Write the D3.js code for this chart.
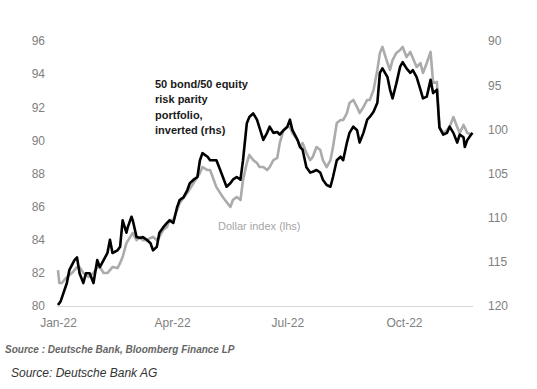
<!DOCTYPE html>
<html>
<head>
<meta charset="utf-8">
<script src="https://cdn.jsdelivr.net/npm/d3@7"></script>
<style>
html,body{margin:0;padding:0;background:#fff;}
svg{display:block;}
</style>
</head>
<body>
<svg id="chart" width="537" height="389"></svg>
<script>
// ---- data (day offset from 1 Jan 2022) ----
const dollarDays = [0,1,3,7,11,15,17,20,24,28,31,33,36,39,41,43,47,49,51,54,57,59,62,65,67,70,73,75,78,80,83,86,88,91,94,96,102,107,112,114,118,120,125,130,136,138,141,144,146,149,151,154,157,159,162,165,167,170,173,175,178,181,183,185,189,191,193,196,199,201,204,207,209,212,215,217,220,223,225,228,230,233,236,238,241,244,246,249,252,254,256,260,262,264,267,270,272,275,278,280,283,286,288,291,294,296,299,301,304,307,309,312,315,317,320,323,327];
const dollarIndex = [82.17,81.39,81.39,81.75,81.99,82.35,82.35,81.99,81.75,81.99,82.35,82.35,81.99,81.99,82.17,82.35,82.29,82.60,82.96,83.80,84.17,84.41,83.98,84.17,83.98,83.98,84.11,84.17,83.98,84.17,84.59,84.77,85.19,85.19,85.80,86.22,86.82,87.43,88.03,88.39,88.21,88.21,87.18,86.58,85.98,86.40,86.58,86.40,87.61,88.63,89.12,88.81,88.63,88.39,88.39,88.21,88.39,88.81,88.94,89.84,90.63,90.81,90.81,90.45,90.02,89.60,89.84,89.24,88.81,89.00,89.60,89.42,88.81,88.39,88.81,89.60,91.05,91.23,91.23,91.65,92.26,92.44,92.01,91.65,92.01,92.44,92.44,93.04,94.25,95.28,95.64,94.67,94.25,94.85,95.28,95.46,95.64,95.03,95.34,94.97,94.43,94.67,94.07,94.67,95.34,93.47,93.53,90.81,90.45,90.63,90.81,91.41,90.81,90.45,90.93,90.45,90.33];

const parityDays = [0,2,7,9,13,15,17,20,22,25,28,31,33,36,39,41,43,47,49,51,54,55,58,59,62,65,67,70,73,75,78,80,83,86,88,91,94,96,99,102,104,107,110,112,114,118,120,122,125,128,133,136,138,141,144,146,149,151,154,157,162,165,167,170,173,175,178,181,183,185,189,191,193,196,199,201,204,207,209,212,215,217,220,223,225,228,230,233,236,238,241,244,246,249,252,254,256,260,262,264,267,270,272,275,278,280,283,286,288,291,294,296,299,301,304,307,309,312,315,317,320,321,323,327];
const riskParity = [119.9,119.5,117.4,115.9,114.8,114.5,116.3,117.4,116.3,116.3,117.4,114.8,115.6,114.8,114.0,112.5,114.0,113.7,113.3,110.3,111.7,111.1,109.9,110.3,112.2,112.3,112.2,112.5,112.9,113.7,113.3,111.7,111.1,110.6,110.3,110.6,108.8,108.0,107.7,106.9,106.1,105.7,105.4,103.5,102.7,103.1,103.5,103.5,103.5,104.6,106.5,106.1,105.7,105.4,105.7,103.5,99.3,98.6,98.2,98.9,101.2,100.4,99.7,100.4,100.3,100.6,100.1,99.7,98.9,100.1,101.2,102.0,102.3,104.3,104.9,104.8,104.6,104.9,105.7,106.3,106.5,105.4,103.5,103.1,103.5,101.5,100.4,99.7,100.1,101.5,100.4,98.9,98.6,98.0,97.0,93.6,93.1,94.1,95.5,96.5,94.8,92.9,92.4,93.1,93.6,93.3,94.1,95.5,96.5,96.3,94.4,95.9,95.5,99.8,100.6,100.4,99.7,100.4,101.5,100.6,100.9,102.0,101.2,100.4];

const leftTicks = [80,82,84,86,88,90,92,94,96];
const rightTicks = [90,95,100,105,110,115,120];
const xTickDates = ["2022-01-01","2022-04-01","2022-07-01","2022-10-01"];
const annotationLines = ["50 bond/50 equity","risk parity","portfolio,","inverted (rhs)"];
const dollarLabel = "Dollar index (lhs)";
const source1 = "Source : Deutsche Bank, Bloomberg Finance LP";
const source2 = "Source: Deutsche Bank AG";

// ---- chart ----
const svg = d3.select("#chart");
const start = new Date(2022,0,1);
const toDate = d => d3.timeDay.offset(start, d);
const parse = d3.timeParse("%Y-%m-%d");

const x = d3.scaleTime().domain([start, toDate(327)]).range([58, 472.4]);
const yL = d3.scaleLinear().domain([80,96]).range([306,41]);
const yR = d3.scaleLinear().domain([90,120]).range([41,306]);

const font = "'Liberation Sans', Arial, sans-serif";

// baseline
svg.append("line").attr("x1",57).attr("x2",473).attr("y1",306.5).attr("y2",306.5)
  .attr("stroke","#d9d9d9").attr("stroke-width",1.2);

// left axis
const gL = svg.append("g").attr("transform","translate(45,0)")
  .call(d3.axisLeft(yL).tickValues(leftTicks).tickSize(0).tickPadding(0));
gL.select(".domain").remove();
gL.selectAll("text").attr("fill","#808080").style("font-family",font).style("font-size","12px");

// right axis
const gR = svg.append("g").attr("transform","translate(488,0)")
  .call(d3.axisRight(yR).tickValues(rightTicks).tickSize(0).tickPadding(0));
gR.select(".domain").remove();
gR.selectAll("text").attr("fill","#808080").style("font-family",font).style("font-size","12px");

// x axis
const gX = svg.append("g").attr("transform","translate(0,318)")
  .call(d3.axisBottom(x).tickValues(xTickDates.map(parse)).tickFormat(d3.timeFormat("%b-%y")).tickSize(0).tickPadding(0));
gX.select(".domain").remove();
gX.selectAll("text").attr("fill","#808080").style("font-family",font).style("font-size","12px");

// lines
const dollarData = dollarDays.map((d,i)=>({date:toDate(d), v:dollarIndex[i]}));
const parityData = parityDays.map((d,i)=>({date:toDate(d), v:riskParity[i]}));

svg.append("path").datum(dollarData)
  .attr("d", d3.line().x(d=>x(d.date)).y(d=>yL(d.v)))
  .attr("fill","none").attr("stroke","#ababab").attr("stroke-width",2.6).attr("stroke-linejoin","round");

svg.append("path").datum(parityData)
  .attr("d", d3.line().x(d=>x(d.date)).y(d=>yR(d.v)))
  .attr("fill","none").attr("stroke","#000").attr("stroke-width",2.6).attr("stroke-linejoin","round");

// annotations
const ann = svg.append("text").attr("x",155).attr("y",88)
  .style("font-family",font).style("font-size","11px").style("font-weight","bold").attr("fill","#1a1a1a");
annotationLines.forEach((t,i)=>ann.append("tspan").attr("x",155).attr("dy", i===0?0:15.3).text(t));

svg.append("text").attr("x",218).attr("y",230).text(dollarLabel)
  .style("font-family",font).style("font-size","11px").attr("fill","#a6a6a6");

svg.append("text").attr("x",5).attr("y",353).text(source1)
  .style("font-family",font).style("font-size","10px").style("font-style","italic").style("font-weight","bold").attr("fill","#666");

svg.append("text").attr("x",11).attr("y",377).text(source2)
  .style("font-family",font).style("font-size","12px").style("font-style","italic").attr("fill","#333");
</script>
</body>
</html>
